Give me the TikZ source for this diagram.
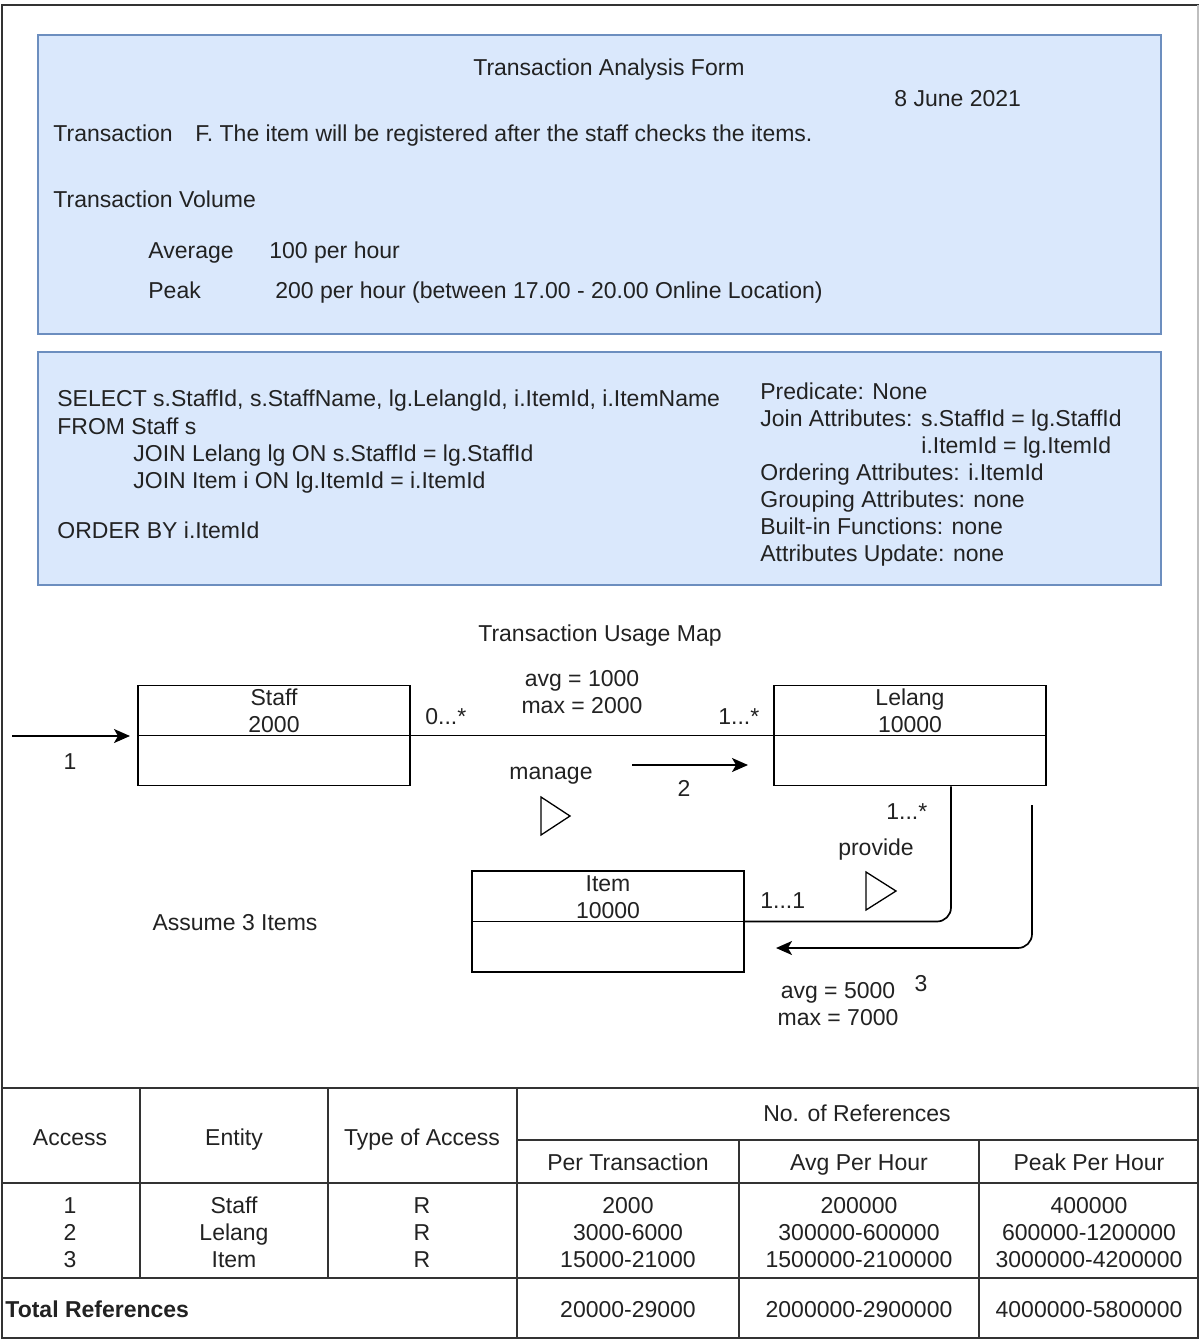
\documentclass[tikz,border=0pt]{standalone}
\usepackage{fontspec}
\setmainfont{Liberation Sans}
\usetikzlibrary{arrows.meta,calc}
\definecolor{bfill}{HTML}{DAE8FC}
\definecolor{bline}{HTML}{6C8EBF}
\definecolor{txtc}{HTML}{222222}
\definecolor{framec}{HTML}{333333}
\tikzset{
  txt/.style={inner sep=0pt, font=\fontsize{11.5}{13.5}\selectfont, text=txtc},
  btxt/.style={txt, font=\fontsize{11.5}{13.5}\selectfont\bfseries},
  ln/.style={draw=black, line width=0.85pt},
  tln/.style={draw=framec, line width=1pt},
  thin/.style={draw=black, line width=0.65pt},
  arr/.style={-{Stealth[length=8pt,width=7pt,inset=2pt]}},
  ebox/.style={draw=black, line width=0.85pt, minimum width=136pt, minimum height=50pt, inner sep=0pt},
  bluebox/.style={fill=bfill, draw=bline, line width=0.75pt}
}
\begin{document}
\begin{tikzpicture}[x=0.5pt,y=-0.5pt]
\useasboundingbox (0,0) rectangle (1199,1340);
\fill[white] (0,0) rectangle (1199,1340);
% outer frame
\draw[tln] (2,1088) -- (2,5) -- (1199,5);
\draw[draw=black!25, line width=0.75pt] (1198,5) -- (1198,1088);

% ---------- Box 1 ----------
\draw[bluebox] (38,35) rectangle (1161,334);
\node[txt,anchor=base] (title) at (609,75) {Transaction Analysis Form};
\node[txt,anchor=base west] (date) at (894,106) {8 June 2021};
\node[txt,anchor=base west] (trl) at (53,141) {Transaction};
\node[txt,anchor=base west] (trv) at (195,141) {F. The item will be registered after the staff checks the items.};
\node[txt,anchor=base west] (vol) at (53,207) {Transaction Volume};
\node[txt,anchor=base west] (avgl) at (148,258) {Average};
\node[txt,anchor=base west] (avgv) at (269,258) {100 per hour};
\node[txt,anchor=base west] (pkl) at (148,298) {Peak};
\node[txt,anchor=base west] (pkv) at (275,298) {200 per hour (between 17.00 - 20.00 Online Location)};

% ---------- Box 2 ----------
\draw[bluebox] (38,352) rectangle (1161,585);
\node[txt,anchor=base west] (q1) at (57,406) {SELECT s.StaffId, s.StaffName, lg.LelangId, i.ItemId, i.ItemName};
\node[txt,anchor=base west] (q2) at (57,434) {FROM Staff s};
\node[txt,anchor=base west] (q3) at (133,461) {JOIN Lelang lg ON s.StaffId = lg.StaffId};
\node[txt,anchor=base west] (q4) at (133,488) {JOIN Item i ON lg.ItemId = i.ItemId};
\node[txt,anchor=base west] (q5) at (57,538) {ORDER BY i.ItemId};
\node[txt,anchor=base west] (p1) at (760,399) {Predicate: None};
\node[txt,anchor=base west] (p2) at (760,426) {Join Attributes: s.StaffId = lg.StaffId};
\node[txt,anchor=base west] (p3) at (921,453) {i.ItemId = lg.ItemId};
\node[txt,anchor=base west] (p4) at (760,480) {Ordering Attributes: i.ItemId};
\node[txt,anchor=base west] (p5) at (760,507) {Grouping Attributes: none};
\node[txt,anchor=base west] (p6) at (760,534) {Built-in Functions: none};
\node[txt,anchor=base west] (p7) at (760,561) {Attributes Update: none};

% ---------- Usage map ----------
\node[txt,anchor=base] (umap) at (600,641) {Transaction Usage Map};

\node[ebox] (staff) at (274,735.5) {};
\node[ebox] (lelang) at (910,735.5) {};
\node[ebox, minimum height=50.5pt] (item) at (608,921.5) {};

\node[txt,anchor=base] (staffn) at (274,705) {Staff};
\node[txt,anchor=base] (staffc) at (274,732) {2000};
\node[txt,anchor=base] (lelangn) at (910,705) {Lelang};
\node[txt,anchor=base] (lelangc) at (910,732) {10000};
\node[txt,anchor=base] (itemn) at (608,891) {Item};
\node[txt,anchor=base] (itemc) at (608,918) {10000};

% staff - lelang relation line (also the dividers)
\draw[ln] (staff.west) -- (staff.east) -- (lelang.west) -- (lelang.east);
% lelang - item relation line
\draw[ln] (item.west) -- (item.east);
\draw[ln, rounded corners=7pt] ($(lelang.south)+(41,0)$) |- (item.east);

% access arrows
\coordinate (a1s) at (12,736);
\coordinate (a1e) at (130,736);
\draw[ln,arr] (a1s) -- (a1e);
\coordinate (a2s) at (632,765);
\coordinate (a2e) at (748,765);
\draw[ln,arr] (a2s) -- (a2e);
\coordinate (a3s) at (1032,805);
\coordinate (a3e) at (776,948);
\draw[ln,arr,rounded corners=7pt] (a3s) |- (a3e);

% triangles
\draw[thin, line join=miter] (541,797) -- (541,835) -- (570,816) -- cycle;
\draw[thin, line join=miter] (866,872) -- (866,910) -- (896,891) -- cycle;

% labels
\node[txt,anchor=base] (l1) at (70,769) {1};
\node[txt,anchor=base west] (m1) at (425,724) {0...*};
\node[txt,anchor=base west] (m2) at (718,724) {1...*};
\node[txt,anchor=base] (avg1) at (582,686) {avg = 1000};
\node[txt,anchor=base] (max1) at (582,713) {max = 2000};
\node[txt,anchor=base] (manage) at (551,779) {manage};
\node[txt,anchor=base] (l2) at (684,796) {2};
\node[txt,anchor=base west] (m3) at (886,819) {1...*};
\node[txt,anchor=base] (provide) at (876,855) {provide};
\node[txt,anchor=base west] (m4) at (760,908) {1...1};
\node[txt,anchor=base] (l3) at (921,991) {3};
\node[txt,anchor=base] (avg3) at (838,998) {avg = 5000};
\node[txt,anchor=base] (max3) at (838,1025) {max = 7000};
\node[txt,anchor=base] (assume) at (235,930) {Assume 3 Items};

% ---------- Table ----------
\draw[tln] (2,1088) rectangle (1198,1338);
\draw[tln] (2,1183) -- (1198,1183);
\draw[tln] (2,1278) -- (1198,1278);
\draw[tln] (517,1140) -- (1198,1140);
\draw[tln] (140,1088) -- (140,1278);
\draw[tln] (328,1088) -- (328,1278);
\draw[tln] (517,1088) -- (517,1338);
\draw[tln] (739,1140) -- (739,1338);
\draw[tln] (979,1140) -- (979,1338);

\node[txt,anchor=base] (h1) at (70,1145) {Access};
\node[txt,anchor=base] (h2) at (234,1145) {Entity};
\node[txt,anchor=base] (h3) at (422,1145) {Type of Access};
\node[txt,anchor=base] (h4) at (857,1121) {No. of References};
\node[txt,anchor=base] (h5) at (628,1170) {Per Transaction};
\node[txt,anchor=base] (h6) at (859,1170) {Avg Per Hour};
\node[txt,anchor=base] (h7) at (1089,1170) {Peak Per Hour};

\foreach \yy/\a/\b/\c/\d/\e/\f [count=\i] in {
  1213/1/Staff/R/2000/200000/400000,
  1240/2/Lelang/R/3000-6000/300000-600000/600000-1200000,
  1267/3/Item/R/15000-21000/1500000-2100000/3000000-4200000}{
  \node[txt,anchor=base] (ca\i) at (70,\yy) {\a};
  \node[txt,anchor=base] (cb\i) at (234,\yy) {\b};
  \node[txt,anchor=base] (cc\i) at (422,\yy) {\c};
  \node[txt,anchor=base] (cd\i) at (628,\yy) {\d};
  \node[txt,anchor=base] (ce\i) at (859,\yy) {\e};
  \node[txt,anchor=base] (cf\i) at (1089,\yy) {\f};
}

\node[btxt,anchor=base west] (tot) at (5,1317) {Total References};
\node[txt,anchor=base] (t1) at (628,1317) {20000-29000};
\node[txt,anchor=base] (t2) at (859,1317) {2000000-2900000};
\node[txt,anchor=base] (t3) at (1089,1317) {4000000-5800000};
\end{tikzpicture}
\end{document}
